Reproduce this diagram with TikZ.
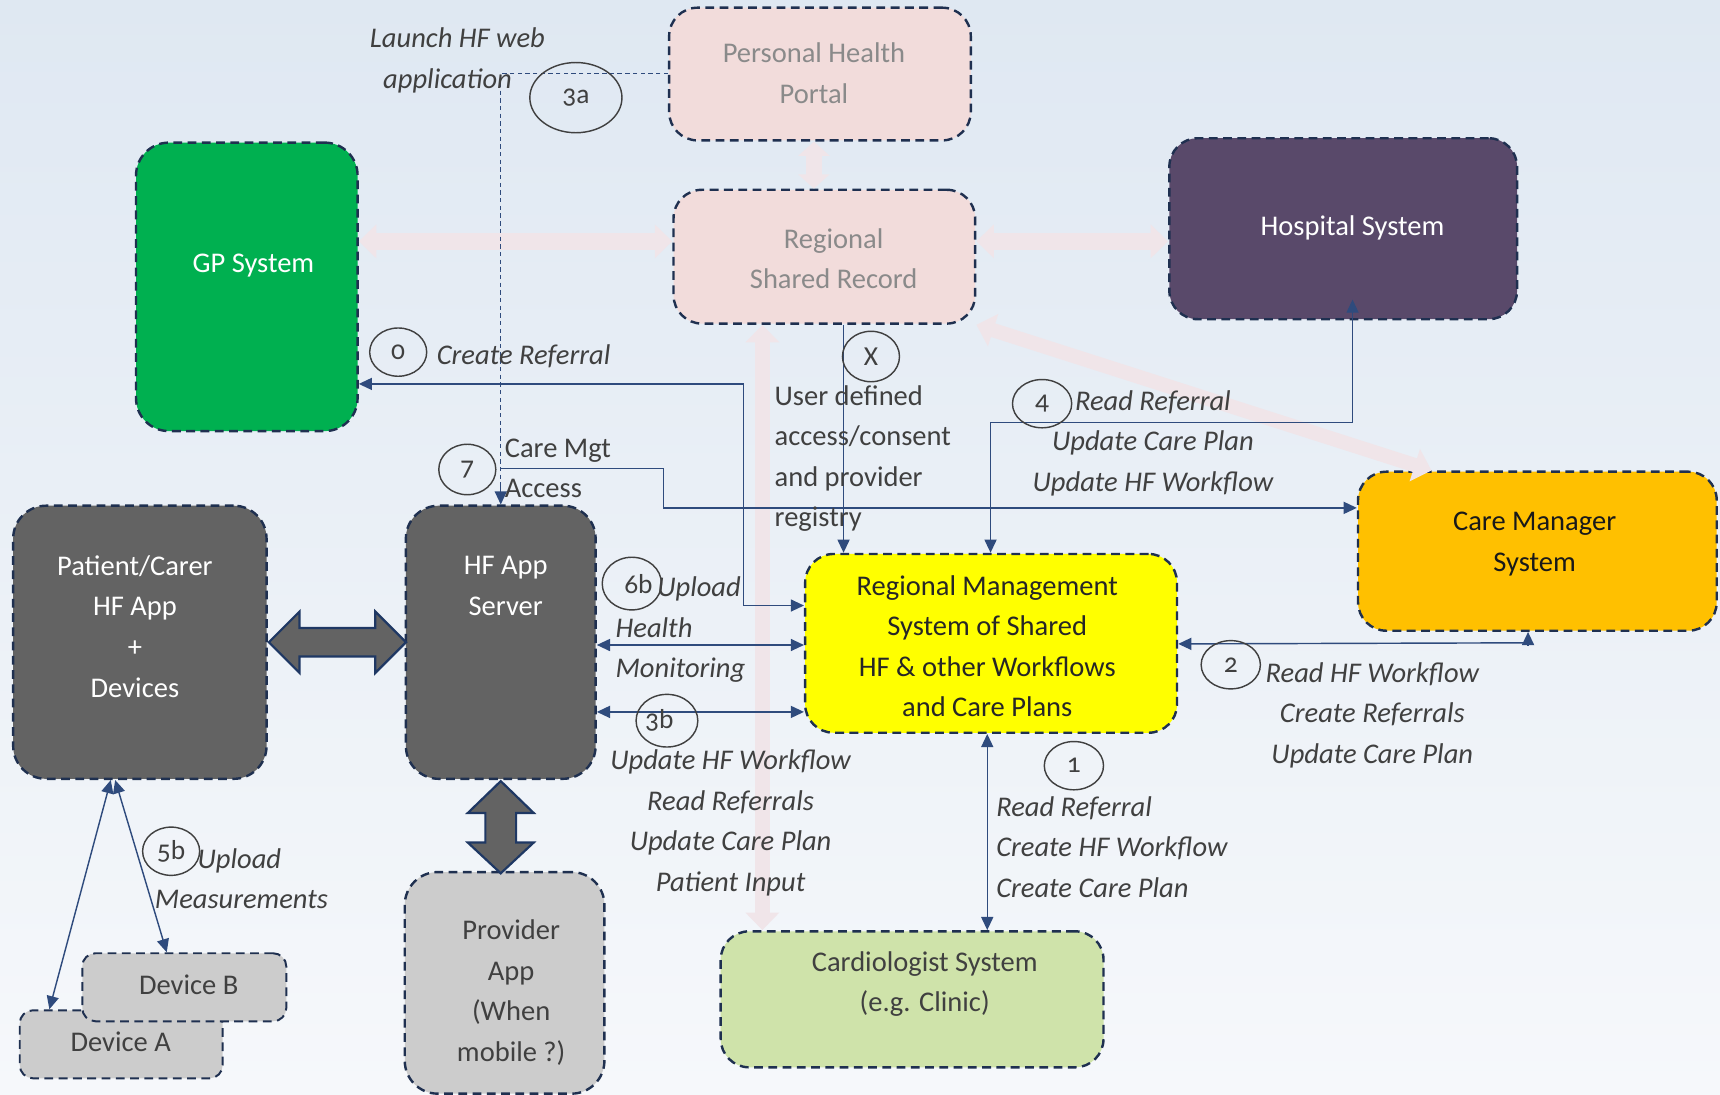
\documentclass[tikz,border=0pt]{standalone}
\usepackage{fontspec}
\setmainfont{Carlito}
\newfontfamily\osf{Carlito}[Numbers=OldStyle]
\usetikzlibrary{arrows.meta,calc,shapes.geometric}
\definecolor{bgtop}{RGB}{223,232,242}
\definecolor{bgbot}{RGB}{246,248,251}
\definecolor{boxline}{RGB}{31,48,80}
\definecolor{navy}{RGB}{47,75,125}
\definecolor{pinkbox}{RGB}{242,220,219}
\definecolor{palepink}{RGB}{240,229,233}
\definecolor{gpgreen}{RGB}{0,176,80}
\definecolor{hospurple}{RGB}{89,73,106}
\definecolor{cmorange}{RGB}{255,192,0}
\definecolor{rmyellow}{RGB}{255,255,0}
\definecolor{darkbox}{RGB}{99,99,99}
\definecolor{lightbox}{RGB}{204,204,204}
\definecolor{cardgreen}{RGB}{207,227,170}
\definecolor{labgray}{RGB}{64,64,64}
\definecolor{portaltext}{RGB}{138,138,138}
\definecolor{blockline}{RGB}{31,56,100}
\begin{document}
\begin{tikzpicture}[x=1pt,y=-1pt,
  nt/.tip={Triangle[length=12pt,width=11pt]},
  pt/.tip={Triangle[length=16pt,width=30pt]},
  ptsmall/.tip={Triangle[length=13pt,width=28pt]},
  box/.style={draw=boxline, line width=2.2pt, dash pattern=on 8pt off 5pt, rounded corners=26pt, inner sep=0pt},
  txt/.style={font=\fontsize{26}{37}\selectfont, align=center, inner sep=0pt},
  lab/.style={font=\fontsize{26}{37}\selectfont, text=labgray, inner sep=0pt},
  ilab/.style={lab, font=\fontsize{26}{37}\selectfont\itshape},
  conn/.style={draw=navy, line width=1.3pt, nt-nt},
  conn1/.style={draw=navy, line width=1.3pt, -nt},
  dashline/.style={draw=navy, line width=1pt, dash pattern=on 4pt off 3pt},
  pale/.style={draw=palepink, line width=15pt, pt-pt},
  num/.style={ellipse, draw=labgray, line width=1.3pt, inner sep=0pt, text=labgray, font=\osf\fontsize{25}{27}\selectfont},
  blockarrow/.style={fill=darkbox, draw=blockline, line width=2pt, line join=miter}
]
\useasboundingbox (0,0) rectangle (1568,998);
\shade[top color=bgtop, bottom color=bgbot] (0,0) rectangle (1568,998);

% box nodes (shapes only)
\node[box, fill=pinkbox, minimum width=275pt, minimum height=121pt] (portal) at (747.5,67.5) {};
\node[box, fill=pinkbox, minimum width=275pt, minimum height=122pt] (rsr) at (751.5,234) {};
\node[box, fill=gpgreen, rounded corners=30pt, minimum width=202pt, minimum height=263pt] (gp) at (225,261.5) {};
\node[box, fill=hospurple, minimum width=317pt, minimum height=165pt] (hosp) at (1224.5,208.5) {};
\node[box, fill=cmorange, minimum width=327pt, minimum height=145pt] (cm) at (1401.5,502.5) {};
\node[box, fill=rmyellow, minimum width=339pt, minimum height=163pt] (rm) at (903.5,586.5) {};
\node[box, fill=darkbox, rounded corners=30pt, minimum width=231pt, minimum height=249pt] (pat) at (127.5,585.5) {};
\node[box, fill=darkbox, rounded corners=30pt, minimum width=173pt, minimum height=249pt] (srv) at (456.5,585.5) {};
\node[box, fill=lightbox, rounded corners=30pt, minimum width=182pt, minimum height=202pt] (prov) at (460,896) {};
\node[box, fill=cardgreen, minimum width=349pt, minimum height=124pt] (cardio) at (831.5,911) {};
\node[box, line width=1.8pt, fill=lightbox, rounded corners=12pt, minimum width=185pt, minimum height=62pt] (devA) at (110.5,952) {};
\node[box, line width=1.8pt, fill=lightbox, rounded corners=12pt, minimum width=186pt, minimum height=62pt] (devB) at (168,900) {};

% texts in boxes
\node[txt, text=portaltext] (portalT) at (742,67) {Personal Health\\Portal};
\node[txt, text=portaltext] (rsrT) at (760,236) {Regional\\Shared Record};
\node[txt, text=white] (gpT) at (231,242) {GP System};
\node[txt, text=white] (hospT) at (1233,208) {Hospital System};
\node[txt, text=black!90] (cmT) at (1399,496) {Care Manager\\System};
\node[txt, text=black!85] (rmT) at (900,589) {Regional Management\\System of Shared\\HF \& other Workflows\\and Care Plans};
\node[txt, text=white] (patT) at (123,571) {Patient/Carer\\HF App\\+\\Devices};
\node[txt, text=white] (srvT) at (461,534) {HF App\\Server};
\node[txt, text=labgray] (provT) at (466,905) {Provider\\App\\(When\\mobile ?)};
\node[txt, text=labgray] (cardioT) at (843,897) {Cardiologist System\\(e.g. Clinic)};
\node[txt, text=labgray] (devAT) at (110,950) {Device A};
\node[txt, text=labgray] (devBT) at (172,898) {Device B};

% pale arrows
\draw[pale, ptsmall-ptsmall, line width=14pt] (portal.south -| 742,0) -- (rsr.north -| 742,0);
\draw[pale] (gp.east |- 0,220) -- (rsr.west |- 0,220);
\draw[pale] (rsr.east |- 0,220) -- (hosp.west |- 0,220);
\draw[pale, line width=13pt] (rsr.south east) -- (cm.north -| 1305,0);
\draw[pale, line width=14pt] (rsr.south -| 695,0) -- (cardio.north -| 695,0);

% block arrows
\draw[blockarrow, shift={(pat.east)}] (1,0) -- (29,-28) -- (29,-13) -- (98,-13) -- (98,-28) -- (126,0) -- (98,28) -- (98,13) -- (29,13) -- (29,28) -- cycle;
\draw[blockarrow, shift={(srv.south)}] (0,1) -- (30,30) -- (14,30) -- (14,57) -- (30,57) -- (0,85) -- (-30,57) -- (-14,57) -- (-14,30) -- (-30,30) -- cycle;

% connectors
\draw[dashline] (portal.west |- 0,67) -| (srv.north);
\draw[conn1] (srv.north |- 0,440) -- (srv.north);
\coordinate (c7) at (srv.north |- 0,427);
\draw[conn1] (c7) -- (605,427) -- (605,463) -- (cm.west |- 0,463);
\draw[conn] (gp.east |- 0,350) -- (678,350) -- (678,552) -- (rm.west |- 0,552);
\draw[conn1] (rsr.south -| 769,0) -- (rm.north -| 769,0);
\draw[conn] ($(hosp.south -| 1233,0)+(0,-19)$) -- (1233,385) -- (903,385) -- (rm.north -| 903,0);
\draw[conn1] (1393,588) -- (cm.south -| 1393,0);
\draw[conn1] (1393,586) -- (rm.east |- 0,587);
\draw[conn] (srv.east |- 0,588) -- (rm.west |- 0,588);
\draw[conn] (srv.east |- 0,649) -- (rm.west |- 0,649);
\draw[conn] (rm.south -| 900,0) -- (cardio.north -| 900,0);
\draw[conn] (pat.south -| 101,0) -- (devA.north -| 45,0);
\draw[conn] (pat.south -| 105,0) -- (devB.north -| 152,0);

% numbered ellipses
\node[num, minimum width=84pt, minimum height=64pt] (n3a) at (525,89) {3a};
\node[num, minimum width=52pt, minimum height=44pt] (n0) at (363,321) {0};
\node[num, minimum width=52pt, minimum height=46pt] (nX) at (794,325) {X};
\node[num, minimum width=54pt, minimum height=44pt] (n4) at (950,368) {4};
\node[num, minimum width=52pt, minimum height=46pt] (n7) at (426,428) {7};
\node[num, minimum width=54pt, minimum height=48pt] (n6b) at (576,532) {\hspace*{12pt}6b};
\node[num, minimum width=56pt, minimum height=48pt] (n3b) at (608,657) {3b\hspace*{14pt}};
\node[num, minimum width=54pt, minimum height=44pt] (n2) at (1122,606) {2};
\node[num, minimum width=54pt, minimum height=44pt] (n1) at (979,698) {1};
\node[num, minimum width=52pt, minimum height=44pt] (n5b) at (156,776) {5b};

% labels
\node[ilab, align=center] (l3a) at (417,55) {Launch HF web\\\hspace*{-18pt}application};
\node[ilab, anchor=west] (l0) at (398,325) {Create Referral};
\node[lab, align=left, anchor=west] (lX) at (706,418) {User defined\\access/consent\\and provider\\registry};
\node[lab, align=left, anchor=west] (l7) at (460,427) {Care Mgt\\Access};
\node[ilab, align=center] (l4) at (1051,404) {Read Referral\\Update Care Plan\\Update HF Workflow};
\node[ilab, align=left, anchor=west] (l6b) at (561,574) {\hspace*{38pt}Upload\\Health\\Monitoring};
\node[ilab, align=center] (l3b) at (666,750) {Update HF Workflow\\Read Referrals\\Update Care Plan\\Patient Input};
\node[ilab, align=center] (l2) at (1251,652) {Read HF Workflow\\Create Referrals\\Update Care Plan};
\node[ilab, align=left, anchor=west] (l1) at (908,772) {Read Referral\\Create HF Workflow\\Create Care Plan};
\node[ilab, align=left, anchor=west] (l5b) at (141,801) {\hspace*{39pt}Upload\\Measurements};
\end{tikzpicture}
\end{document}
